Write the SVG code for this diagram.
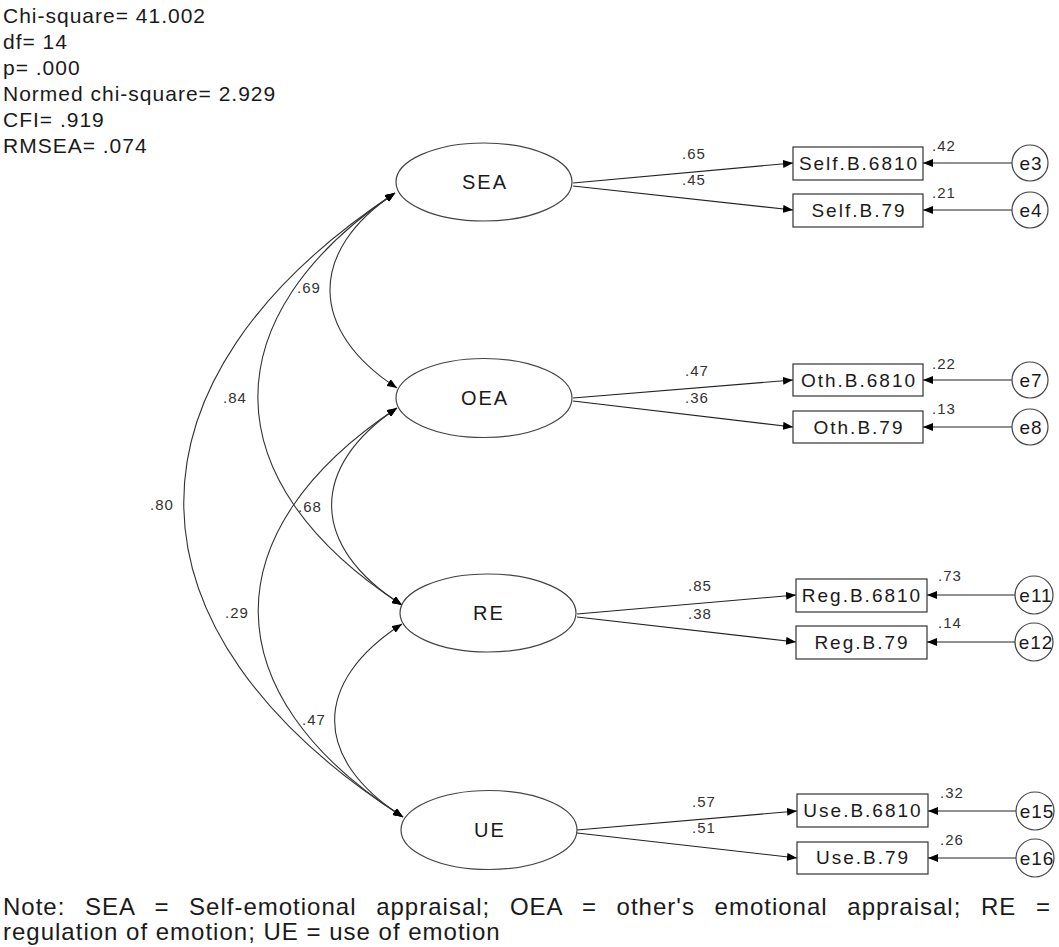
<svg xmlns="http://www.w3.org/2000/svg" width="1059" height="947" viewBox="0 0 1059 947">
  <style>
    text { font-family: "Liberation Sans", Arial, sans-serif; fill: #1a1a1a; }
    .fit { font-size: 21px; letter-spacing: 1px; }
    .lat { font-size: 20px; letter-spacing: 2px; text-anchor: middle; }
    .obs { font-size: 19px; letter-spacing: 2px; text-anchor: middle; }
    .err { font-size: 19px; letter-spacing: 1px; text-anchor: middle; }
    .num { font-size: 15px; letter-spacing: 1px; fill: #333; }
    .note { font-size: 24px; letter-spacing: 1px; }
    ellipse, circle { fill: #fff; stroke: #444; stroke-width: 1.2; }
    rect { fill: #fff; stroke: #333; stroke-width: 1.2; }
    .path { fill: none; stroke: #222; stroke-width: 1.1; }
    .cov { fill: none; stroke: #333; stroke-width: 1.1; marker-start: url(#ah); marker-end: url(#ah); }
    .one { marker-end: url(#ah); }
  </style>
  <defs>
    <marker id="ah" viewBox="0 0 10 8" refX="10" refY="4" markerWidth="10" markerHeight="8" markerUnits="userSpaceOnUse" orient="auto-start-reverse">
      <path d="M0,0 L10,4 L0,8 z" fill="#000"/>
    </marker>
  </defs>

  <!-- model fit summary -->
  <g id="fit-stats">
    <text class="fit" x="3" y="23">Chi-square= 41.002</text>
    <text class="fit" x="3" y="49">df= 14</text>
    <text class="fit" x="3" y="75">p= .000</text>
    <text class="fit" x="3" y="101">Normed chi-square= 2.929</text>
    <text class="fit" x="3" y="127">CFI= .919</text>
    <text class="fit" x="3" y="153">RMSEA= .074</text>
  </g>

  <!-- connectors: covariances, loadings, error terms -->
  <g id="connectors">
    <path class="cov" d="M395,193 C308,251 308,330 397,388"/>
    <path class="cov" d="M395,193 C211,317 211,481 402,605"/>
    <path class="cov" d="M395,193 C112,380 112,630 403,817"/>
    <path class="cov" d="M397,408 C309,467 309,546 402,605"/>
    <path class="cov" d="M397,408 C211,531 211,694 403,817"/>
    <path class="cov" d="M402,624 C312,682 312,759 403,817"/>

    <path class="path one" d="M573,183 L793,163"/>
    <path class="path one" d="M573,186 L793,210"/>
    <path class="path one" d="M573,398 L793,380"/>
    <path class="path one" d="M573,401 L793,427"/>
    <path class="path one" d="M577,614 L796,595"/>
    <path class="path one" d="M577,617 L796,642"/>
    <path class="path one" d="M577,830 L797,811"/>
    <path class="path one" d="M577,833 L797,858"/>

    <path class="path one" d="M1012,163 L923,163"/>
    <path class="path one" d="M1012,210 L923,210"/>
    <path class="path one" d="M1012,380 L923,380"/>
    <path class="path one" d="M1012,427 L923,427"/>
    <path class="path one" d="M1015,595 L927,595"/>
    <path class="path one" d="M1015,642 L927,642"/>
    <path class="path one" d="M1016,811 L928,811"/>
    <path class="path one" d="M1016,858 L928,858"/>

    <text class="num" x="297" y="293">.69</text>
    <text class="num" x="223" y="403">.84</text>
    <text class="num" x="150" y="510">.80</text>
    <text class="num" x="298" y="512">.68</text>
    <text class="num" x="225" y="618">.29</text>
    <text class="num" x="302" y="725">.47</text>

    <text class="num" x="682" y="159">.65</text>
    <text class="num" x="682" y="185">.45</text>
    <text class="num" x="685" y="376">.47</text>
    <text class="num" x="685" y="403">.36</text>
    <text class="num" x="688" y="591">.85</text>
    <text class="num" x="688" y="619">.38</text>
    <text class="num" x="692" y="807">.57</text>
    <text class="num" x="692" y="833">.51</text>
  </g>

  <!-- latent factors -->
  <g id="SEA"><ellipse cx="484" cy="182" rx="88" ry="39"/><text class="lat" x="485" y="189">SEA</text></g>
  <g id="OEA"><ellipse cx="484" cy="398" rx="88" ry="39.5"/><text class="lat" x="485" y="405">OEA</text></g>
  <g id="RE"><ellipse cx="488" cy="613" rx="88" ry="39"/><text class="lat" x="489" y="620">RE</text></g>
  <g id="UE"><ellipse cx="489" cy="830" rx="88" ry="39.5"/><text class="lat" x="490" y="837">UE</text></g>

  <!-- observed indicators -->
  <g id="Self.B.6810"><rect x="793" y="147" width="130" height="33"/><text class="obs" x="859" y="170">Self.B.6810</text><text class="num" x="932" y="151">.42</text></g>
  <g id="Self.B.79"><rect x="793" y="194" width="130" height="33"/><text class="obs" x="859" y="217">Self.B.79</text><text class="num" x="932" y="198">.21</text></g>
  <g id="Oth.B.6810"><rect x="793" y="364" width="130" height="32"/><text class="obs" x="859" y="387">Oth.B.6810</text><text class="num" x="932" y="369">.22</text></g>
  <g id="Oth.B.79"><rect x="793" y="411" width="130" height="32"/><text class="obs" x="859" y="434">Oth.B.79</text><text class="num" x="932" y="414">.13</text></g>
  <g id="Reg.B.6810"><rect x="796" y="579" width="131" height="33"/><text class="obs" x="862" y="602">Reg.B.6810</text><text class="num" x="938" y="581">.73</text></g>
  <g id="Reg.B.79"><rect x="796" y="626" width="131" height="33"/><text class="obs" x="862" y="649">Reg.B.79</text><text class="num" x="938" y="628">.14</text></g>
  <g id="Use.B.6810"><rect x="797" y="794" width="131" height="33"/><text class="obs" x="863" y="817">Use.B.6810</text><text class="num" x="940" y="798">.32</text></g>
  <g id="Use.B.79"><rect x="797" y="842" width="131" height="32"/><text class="obs" x="863" y="864">Use.B.79</text><text class="num" x="940" y="845">.26</text></g>

  <!-- error terms -->
  <g id="e3"><circle cx="1030" cy="163" r="18"/><text class="err" x="1031" y="170">e3</text></g>
  <g id="e4"><circle cx="1030" cy="210" r="18"/><text class="err" x="1031" y="217">e4</text></g>
  <g id="e7"><circle cx="1030" cy="380" r="18"/><text class="err" x="1031" y="387">e7</text></g>
  <g id="e8"><circle cx="1030" cy="427" r="18"/><text class="err" x="1031" y="434">e8</text></g>
  <g id="e11"><circle cx="1034" cy="595" r="19"/><text class="err" x="1036" y="602">e11</text></g>
  <g id="e12"><circle cx="1034" cy="642" r="19"/><text class="err" x="1036" y="649">e12</text></g>
  <g id="e15"><circle cx="1035" cy="811" r="19"/><text class="err" x="1037" y="818">e15</text></g>
  <g id="e16"><circle cx="1035" cy="858" r="19"/><text class="err" x="1037" y="865">e16</text></g>

  <!-- caption, first line justified -->
  <g id="note">
    <text class="note" x="3" y="915" word-spacing="12">Note: SEA = Self-emotional appraisal; OEA = other's emotional appraisal; RE =</text>
    <text class="note" x="3" y="940">regulation of emotion; UE = use of emotion</text>
  </g>
</svg>
